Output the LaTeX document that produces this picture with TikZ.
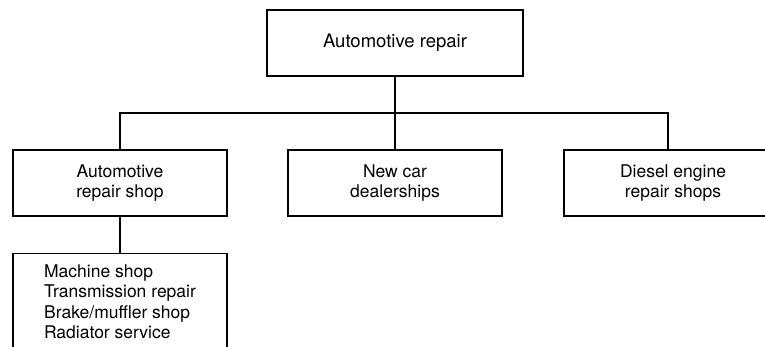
\documentclass[tikz,border=0pt]{standalone}
\usepackage{fontspec}
\setmainfont{TeX Gyre Heros}
\usepackage{tikz}
\usetikzlibrary{positioning}

\begin{document}
\begin{tikzpicture}[
  x=1pt,y=-1pt,
  unit/.style={draw=black,line width=1.1pt,fill=white,minimum width=214pt,minimum height=66pt,align=center,
    font=\fontsize{17.5}{20.5}\selectfont,inner sep=0pt},
  sublist/.style={draw=black,line width=1.1pt,fill=white,minimum width=214pt,align=left,
    font=\fontsize{17.5}{20.5}\selectfont,inner xsep=0pt,inner ysep=11pt},
  link/.style={line width=1.1pt,draw=black}
]
\useasboundingbox (0,0) rectangle (765,346);
\clip (0,0) rectangle (765,346);

\node[unit,minimum width=256pt,font=\fontsize{18.5}{21}\selectfont] (root) at (395,43) {Automotive repair};

\node[unit] (shop) at (120,183) {Automotive\\repair shop};
\node[unit] (dealer) at (395,183) {New car\\dealerships};
% runs off the right edge of the page
\node[unit,minimum width=218pt] (diesel) at (673,183) {Diesel engine\\repair shops};

\node[sublist,anchor=north] (services) at (120,253) {Machine shop\\Transmission repair\\Brake/muffler shop\\Radiator service};

\coordinate (fork) at (395,113);
\draw[link] (root.south) -- (fork);
\draw[link] (shop.north) |- (fork) -| ([xshift=-5pt]diesel.north);
\draw[link] (fork) -- (dealer.north);
\draw[link] (shop.south) -- (services.north);
\end{tikzpicture}
\end{document}
